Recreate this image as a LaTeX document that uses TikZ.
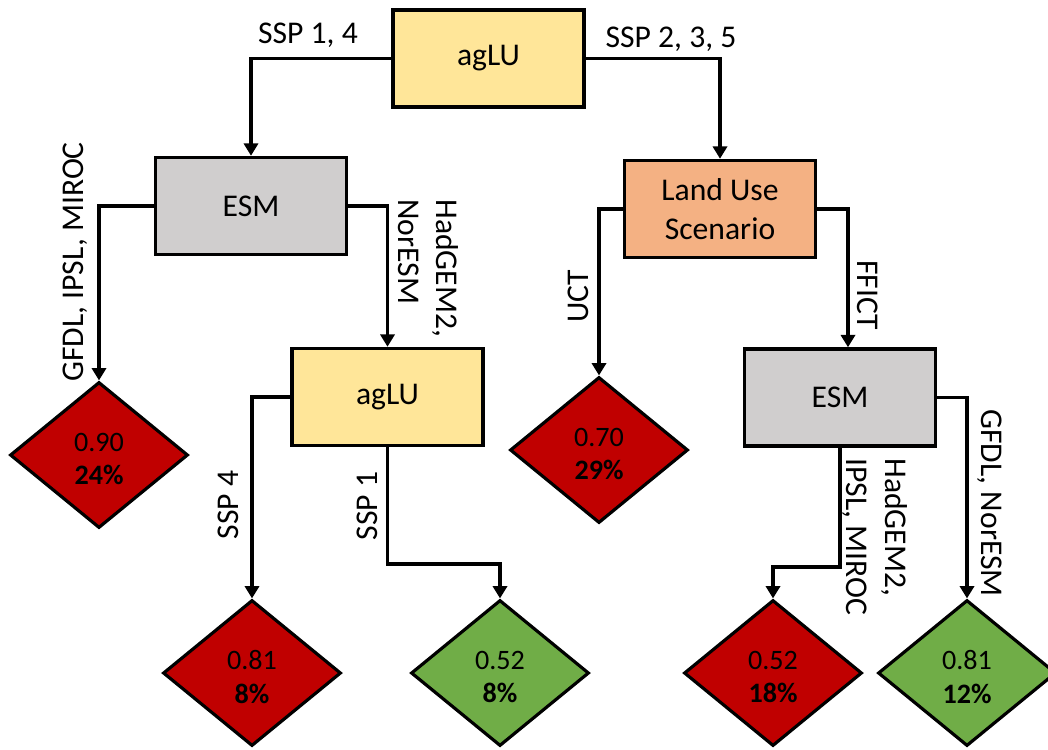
\documentclass[tikz,border=0pt]{standalone}
\usepackage{fontspec}
\setmainfont{Carlito}
\usetikzlibrary{shapes.geometric, arrows.meta}
\tikzset{>={Triangle[width=4pt,length=3.5pt]}}
\definecolor{agyellow}{HTML}{FFE699}
\definecolor{esmgray}{HTML}{D0CECE}
\definecolor{luorange}{HTML}{F4B183}
\definecolor{badred}{HTML}{C00000}
\definecolor{goodgreen}{HTML}{70AD47}
% two-line score text, set a little below the middle
\newcommand{\score}[2]{\raisebox{-0.4mm}[\height][\depth]{#1}\\\raisebox{-0.4mm}[\height][\depth]{\textbf{#2}}}

\begin{document}
\begin{tikzpicture}[
    font=\fontsize{9}{11}\selectfont,
    box/.style={draw, line width=1pt, minimum width=1.91cm, minimum height=0.97cm, align=center},
    result/.style={diamond, draw, line width=0.9pt, minimum width=1.78cm, minimum height=1.46cm,
        inner sep=0pt, align=center, font=\fontsize{8}{9.5}\selectfont},
    link/.style={->, line width=1pt}
    ]
    \useasboundingbox (0,0) rectangle (10.48,7.49);

    % boxes
    \node[box, fill=agyellow] (agtop) at (4.885,6.905) {agLU};
    \node[box, fill=esmgray] (esml) at (2.51,5.43) {ESM};
    \node[box, fill=luorange] (lus) at (7.20,5.40) {Land Use\\Scenario};
    \node[box, fill=agyellow] (agmid) at (3.875,3.52) {agLU};
    \node[box, fill=esmgray] (esmr) at (8.40,3.515) {ESM};

    % outcomes
    \node[result, fill=badred] (r1) at (0.99,2.94) {\score{0.90}{24\%}};
    \node[result, fill=badred] (r2) at (5.99,2.99) {\score{0.70}{29\%}};
    \node[result, fill=badred] (r3) at (2.52,0.76) {\score{0.81}{8\%}};
    \node[result, fill=goodgreen] (r4) at (5.00,0.76) {\score{0.52}{8\%}};
    \node[result, fill=badred] (r5) at (7.73,0.76) {\score{0.52}{18\%}};
    \node[result, fill=goodgreen] (r6) at (9.67,0.76) {\score{0.81}{12\%}};

    \coordinate (k1) at (3.875,1.85);
    \coordinate (k2) at (8.40,1.82);

    \draw[link] (agtop.west) -| (esml.north);
    \draw[link] (agtop.east) -| (lus.north);
    \draw[link] (esml.west) -| (r1.north);
    \draw[link] (esml.east) -| (agmid.north);
    \draw[link] (agmid.west) -| (r3.north);
    \draw[link] (agmid.south) -- (k1) -| (r4.north);
    \draw[link] (lus.west) -| (r2.north);
    \draw[link] (lus.east) -| ([xshift=0.8mm]esmr.north);
    \draw[link] (esmr.south) -- (k2) -| (r5.north);
    \draw[link] (esmr.east) -| (r6.north);

    % branch labels
    \node (l1) at (3.08,7.14) {SSP 1, 4};
    \node (l2) at (6.71,7.10) {SSP 2, 3, 5};
    \node[rotate=90] (l3) at (0.75,4.87) {GFDL, IPSL, MIROC};
    \node[rotate=-90, anchor=west, align=left] (l4) at (4.285,5.62) {HadGEM2,\\NorESM};
    \node[rotate=90] (l5) at (2.28,2.44) {SSP 4};
    \node[rotate=90] (l6) at (3.67,2.43) {SSP 1};
    \node[rotate=90] (l7) at (5.78,4.53) {UCT};
    \node[rotate=-90] (l8) at (8.68,4.54) {FFICT};
    \node[rotate=-90, anchor=west, align=left] (l9) at (8.75,3.03) {HadGEM2,\\IPSL, MIROC};
    \node[rotate=-90, anchor=west] (l10) at (9.90,3.52) {GFDL, NorESM};
\end{tikzpicture}
\end{document}
